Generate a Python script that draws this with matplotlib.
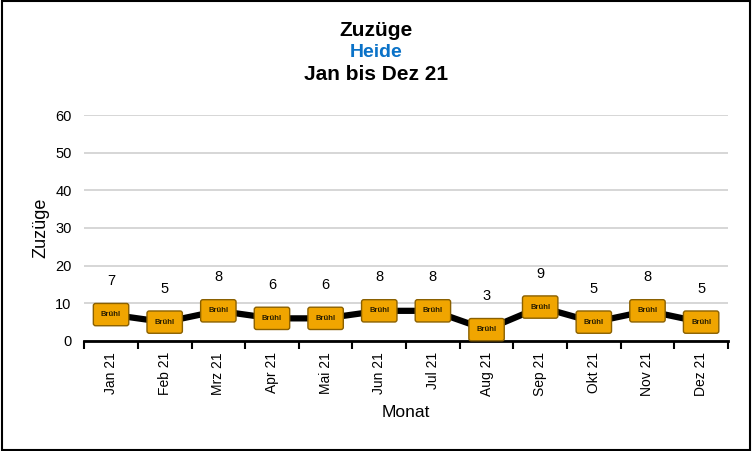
import matplotlib.pyplot as plt

plt.rcParams['font.family'] = ['Liberation Sans', 'DejaVu Sans']

monate = ['Jan 21', 'Feb 21', 'Mrz 21', 'Apr 21', 'Mai 21', 'Jun 21',
          'Jul 21', 'Aug 21', 'Sep 21', 'Okt 21', 'Nov 21', 'Dez 21']
zuzuege = [7, 5, 8, 6, 6, 8, 8, 3, 9, 5, 8, 5]
punkt_label = 'Brühl'

fig = plt.figure(figsize=(7.52, 4.51), dpi=100)
ax = fig.add_axes([0.112, 0.244, 0.856, 0.501])

# Rahmen um die ganze Grafik
rahmen = plt.Rectangle((0.002, 0.003), 0.996, 0.994, transform=fig.transFigure,
                       fill=False, edgecolor='black', linewidth=1.5)
fig.patches.append(rahmen)

x = list(range(len(monate)))
ax.plot(x, zuzuege, color='black', linewidth=4.5, zorder=3)

for xi, yi in zip(x, zuzuege):
    ax.text(xi, yi, punkt_label, ha='center', va='center', fontsize=5.5, fontweight='bold',
            color='#2a1e00', zorder=5,
            bbox=dict(boxstyle='round,pad=1.0,rounding_size=0.3', facecolor='#f0a500',
                      edgecolor='#8a6000', linewidth=1))
    ax.annotate(str(yi), (xi, yi), xytext=(0, 24), textcoords='offset points',
                ha='center', va='center', fontsize=10.5)

ax.set_ylim(0, 60)
ax.set_yticks(range(0, 61, 10))
ax.set_xlim(-0.5, len(monate) - 0.5)
ax.set_xticks(x)
ax.set_xticklabels(monate, rotation=90, fontsize=10)
ax.set_xticks([i - 0.5 for i in range(len(monate) + 1)], minor=True)
ax.tick_params(axis='x', which='major', length=0, pad=8)
ax.tick_params(axis='x', which='minor', length=6, width=1.5, color='black')
ax.tick_params(axis='y', length=0, labelsize=10.5, pad=9)

ax.grid(axis='y', color='#d0d0d0', linewidth=1.2)
ax.set_axisbelow(True)
for s in ['top', 'right', 'left']:
    ax.spines[s].set_visible(False)
ax.spines['bottom'].set_linewidth(2)

ax.set_ylabel('Zuzüge', fontsize=13, labelpad=4)
ax.set_xlabel('Monat', fontsize=12.5, labelpad=6)

fig.text(0.5, 0.933, 'Zuzüge', ha='center', va='center', fontsize=15, fontweight='bold')
fig.text(0.5, 0.883, 'Heide', ha='center', va='center', fontsize=14, fontweight='bold', color='#0a72c8')
fig.text(0.5, 0.834, 'Jan bis Dez 21', ha='center', va='center', fontsize=15, fontweight='bold')

fig.savefig('out.png', dpi=100)
